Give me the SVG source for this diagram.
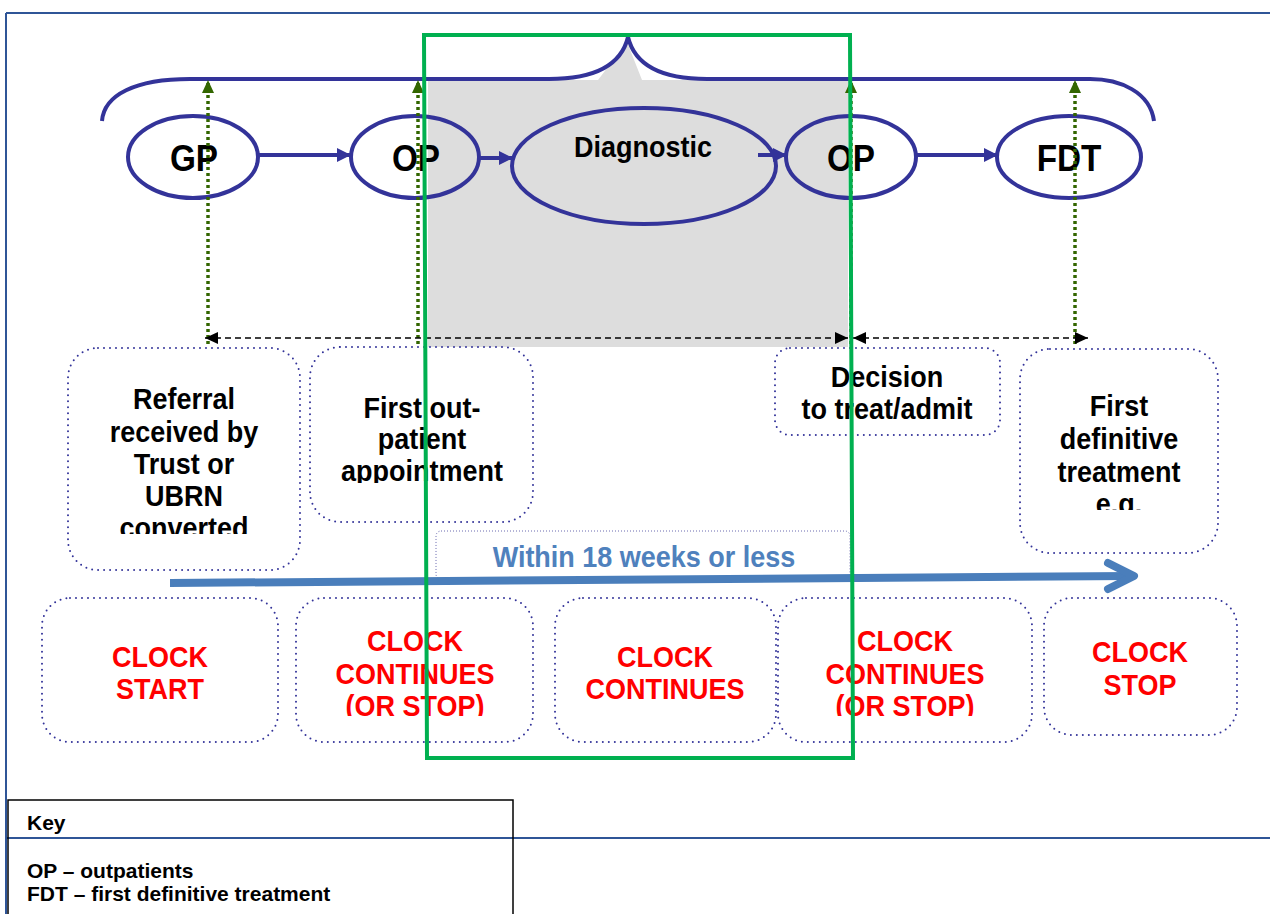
<svg xmlns="http://www.w3.org/2000/svg" width="1270" height="914" viewBox="0 0 1270 914">
  <style>
    .lbl { font-family: "Liberation Sans", Arial, sans-serif; font-weight: bold; text-anchor: middle;
           transform-box: fill-box; transform-origin: 50% 50%; transform: scaleX(0.9); }
    .big { font-size: 30px; fill: #000; }
    .red { font-size: 30px; fill: #ff0000; }
    .node { font-size: 37px; fill: #000; }
    .ell { fill: none; stroke: #333399; stroke-width: 4; }
    .dotbox { fill: none; stroke: #333399; stroke-width: 2; stroke-dasharray: 0 6; stroke-linecap: round; }
    .flow { stroke: #333399; stroke-width: 4; fill: none; }
    .mark { stroke: #336600; stroke-width: 3.5; stroke-dasharray: 3 3; fill: none; }
    .span { stroke: #000; stroke-width: 1.5; stroke-dasharray: 6 4; fill: none; }
    .key { font-family: "Liberation Sans", Arial, sans-serif; font-weight: bold; font-size: 20px; fill: #000;
           transform-box: fill-box; transform-origin: 0 50%; transform: scaleX(1.05); }
  </style>
  <defs>
    <marker id="ah-blue" viewBox="0 0 14 14" refX="14" refY="7" markerWidth="14" markerHeight="14" orient="auto" markerUnits="userSpaceOnUse">
      <path d="M0,0 L14,7 L0,14 Z" fill="#333399"/>
    </marker>
    <marker id="ah-green" viewBox="0 0 13 12" refX="13" refY="6" markerWidth="13" markerHeight="12" orient="auto" markerUnits="userSpaceOnUse">
      <path d="M0,0 L13,6 L0,12 Z" fill="#336600"/>
    </marker>
    <marker id="ah-black" viewBox="0 0 13 12" refX="13" refY="6" markerWidth="13" markerHeight="12" orient="auto-start-reverse" markerUnits="userSpaceOnUse">
      <path d="M0,0 L13,6 L0,12 Z" fill="#000"/>
    </marker>
    <clipPath id="clip-referral"><rect x="60" y="340" width="250" height="194"/></clipPath>
    <clipPath id="clip-firstop"><rect x="300" y="340" width="240" height="143"/></clipPath>
    <clipPath id="clip-fdt"><rect x="1010" y="340" width="220" height="170"/></clipPath>
    <clipPath id="clip-clock"><rect x="280" y="600" width="760" height="116"/></clipPath>
  </defs>

  <rect width="1270" height="914" fill="#fff"/>

  <!-- page frame -->
  <g id="frame" stroke="#2f5597" stroke-width="2" fill="none">
    <line x1="6" y1="13" x2="1270" y2="13"/>
    <line x1="6" y1="13" x2="6" y2="914"/>
    <line x1="6" y1="838" x2="1270" y2="838"/>
  </g>

  <!-- shaded diagnostic phase -->
  <polygon id="diagnostic-phase" points="428,80 598,80 627,42 642,80 848,80 848,347 428,347" fill="#dddddd"/>

  <!-- overall pathway brace -->
  <path id="brace" class="flow" d="M102,121 C104,95 135,79 190,79 L549,79 C600,79 622,62 628,37 C634,62 656,79 707,79 L1090,79 C1120,79 1150,92 1154,121"/>

  <!-- milestone boxes -->
  <g id="referral">
    <rect class="dotbox" x="68" y="348" width="232" height="222" rx="30"/>
    <g clip-path="url(#clip-referral)">
      <text class="lbl big" x="184" y="409">Referral</text>
      <text class="lbl big" x="184" y="442">received by</text>
      <text class="lbl big" x="184" y="474">Trust or</text>
      <text class="lbl big" x="184" y="506">UBRN</text>
      <text class="lbl big" x="184" y="538">converted</text>
    </g>
  </g>
  <g id="first-outpatient">
    <rect class="dotbox" x="310" y="347" width="223" height="175" rx="30"/>
    <g clip-path="url(#clip-firstop)">
      <text class="lbl big" x="422" y="418">First out-</text>
      <text class="lbl big" x="422" y="449">patient</text>
      <text class="lbl big" x="422" y="481">appointment</text>
    </g>
  </g>
  <g id="decision">
    <rect class="dotbox" x="775" y="348" width="225" height="87" rx="15"/>
    <text class="lbl big" x="887" y="387">Decision</text>
    <text class="lbl big" x="887" y="419">to treat/admit</text>
  </g>
  <g id="first-definitive">
    <rect class="dotbox" x="1020" y="349" width="198" height="204" rx="30"/>
    <g clip-path="url(#clip-fdt)">
      <text class="lbl big" x="1119" y="416">First</text>
      <text class="lbl big" x="1119" y="449">definitive</text>
      <text class="lbl big" x="1119" y="482">treatment</text>
      <text class="lbl big" x="1119" y="514">e.g.</text>
    </g>
  </g>

  <!-- 18 week timeline -->
  <g id="timeline">
    <rect x="436" y="531" width="414" height="48" rx="5" fill="none" stroke="#6a6ab0" stroke-width="1" stroke-dasharray="1 2"/>
    <text class="lbl" x="644" y="567" font-size="30" fill="#4f81bd">Within 18 weeks or less</text>
    <line x1="170" y1="583" x2="1132" y2="576" stroke="#4a7ebb" stroke-width="8"/>
    <polyline points="1108,563 1134,576 1108,589" fill="none" stroke="#4a7ebb" stroke-width="8" stroke-linecap="round" stroke-linejoin="round"/>
  </g>

  <!-- clock states -->
  <g id="clock-start">
    <rect class="dotbox" x="42" y="598" width="236" height="144" rx="28"/>
    <text class="lbl red" x="160" y="667">CLOCK</text>
    <text class="lbl red" x="160" y="699">START</text>
  </g>
  <g id="clock-continues-1">
    <rect class="dotbox" x="296" y="598" width="237" height="144" rx="28"/>
    <g clip-path="url(#clip-clock)">
      <text class="lbl red" x="415" y="651">CLOCK</text>
      <text class="lbl red" x="415" y="684">CONTINUES</text>
      <text class="lbl red" x="415" y="716">(OR STOP)</text>
    </g>
  </g>
  <g id="clock-continues-2">
    <rect class="dotbox" x="555" y="598" width="221" height="144" rx="28"/>
    <text class="lbl red" x="665" y="667">CLOCK</text>
    <text class="lbl red" x="665" y="699">CONTINUES</text>
  </g>
  <g id="clock-continues-3">
    <rect class="dotbox" x="778" y="598" width="254" height="144" rx="28"/>
    <g clip-path="url(#clip-clock)">
      <text class="lbl red" x="905" y="651">CLOCK</text>
      <text class="lbl red" x="905" y="684">CONTINUES</text>
      <text class="lbl red" x="905" y="716">(OR STOP)</text>
    </g>
  </g>
  <g id="clock-stop">
    <rect class="dotbox" x="1044" y="598" width="193" height="137" rx="28"/>
    <text class="lbl red" x="1140" y="662">CLOCK</text>
    <text class="lbl red" x="1140" y="695">STOP</text>
  </g>

  <!-- pathway stages -->
  <g id="gp">
    <ellipse class="ell" cx="193" cy="157" rx="65" ry="41"/>
    <text class="lbl node" x="194" y="171">GP</text>
  </g>
  <g id="op-1">
    <ellipse class="ell" cx="415" cy="157" rx="64" ry="41"/>
    <text class="lbl node" x="416" y="171">OP</text>
  </g>
  <g id="diagnostic">
    <ellipse class="ell" cx="644" cy="166" rx="132" ry="58"/>
    <text class="lbl" x="643" y="157" font-size="30" fill="#000">Diagnostic</text>
  </g>
  <g id="op-2">
    <ellipse class="ell" cx="851" cy="157" rx="65" ry="41"/>
    <text class="lbl node" x="851" y="171">OP</text>
  </g>
  <g id="fdt">
    <ellipse class="ell" cx="1069" cy="157" rx="72" ry="41"/>
    <text class="lbl node" x="1069" y="171" font-size="34">FDT</text>
  </g>

  <!-- connectors -->
  <g id="connectors">
    <line class="flow" x1="258" y1="155" x2="351" y2="155" marker-end="url(#ah-blue)"/>
    <line class="flow" x1="479" y1="158" x2="513" y2="158" marker-end="url(#ah-blue)"/>
    <line class="flow" x1="758" y1="155" x2="787" y2="155" marker-end="url(#ah-blue)"/>
    <line class="flow" x1="916" y1="155" x2="998" y2="155" marker-end="url(#ah-blue)"/>

    <line class="mark" x1="208" y1="344" x2="208" y2="80" marker-end="url(#ah-green)"/>
    <line class="mark" x1="418" y1="344" x2="418" y2="80" marker-end="url(#ah-green)"/>
    <line class="mark" x1="851" y1="344" x2="851" y2="80" marker-end="url(#ah-green)"/>
    <line class="mark" x1="1075" y1="344" x2="1075" y2="80" marker-end="url(#ah-green)"/>

    <line class="span" x1="205" y1="338" x2="848" y2="338" marker-start="url(#ah-black)" marker-end="url(#ah-black)"/>
    <line class="span" x1="853" y1="338" x2="1088" y2="338" marker-start="url(#ah-black)" marker-end="url(#ah-black)"/>
  </g>

  <!-- period marker -->
  <path id="period" d="M424,35 L850,35 L853,758 L427,758 Z" fill="none" stroke="#00b050" stroke-width="4"/>

  <!-- key -->
  <g id="key">
    <rect x="8" y="800" width="505" height="130" fill="none" stroke="#000" stroke-width="1.5"/>
    <text class="key" x="27" y="830" font-size="18">Key</text>
    <text class="key" x="27" y="878">OP – outpatients</text>
    <text class="key" x="27" y="901">FDT – first definitive treatment</text>
  </g>
</svg>
